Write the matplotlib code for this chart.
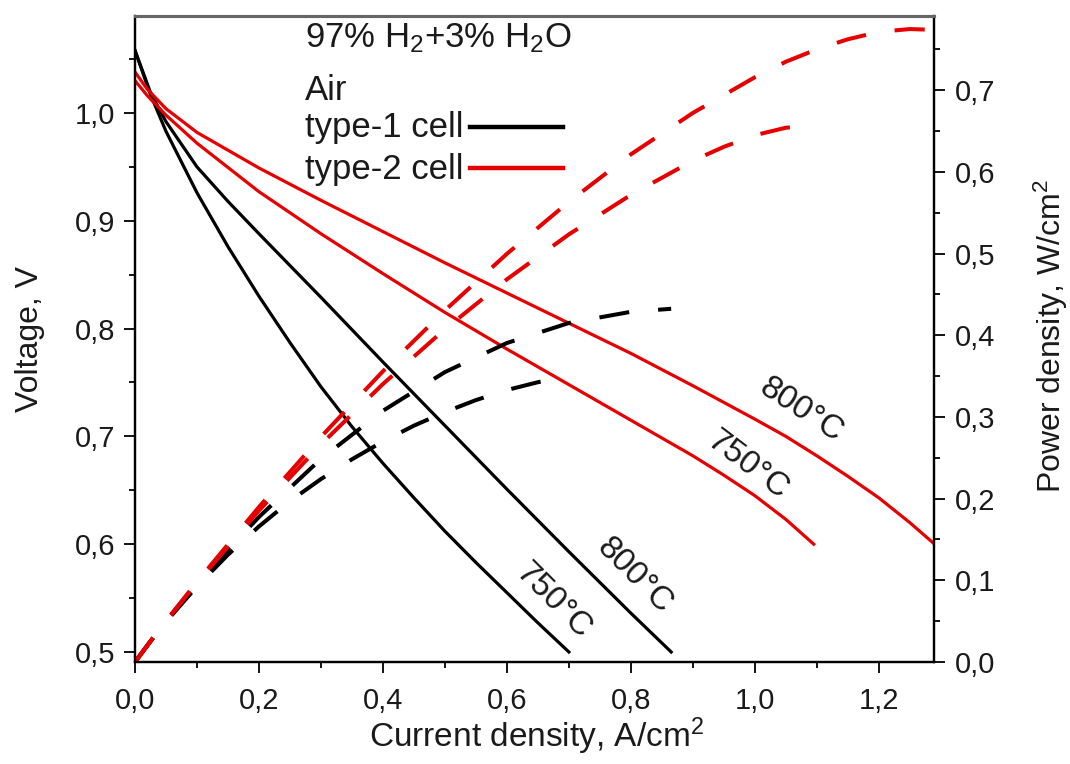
import matplotlib
matplotlib.use("Agg")
import matplotlib.pyplot as plt
from matplotlib.ticker import MultipleLocator, FuncFormatter

plt.rcParams['font.family'] = 'Liberation Sans'
plt.rcParams['mathtext.fontset'] = 'custom'
plt.rcParams['mathtext.rm'] = 'Liberation Sans'
plt.rcParams['mathtext.it'] = 'Liberation Sans:italic'
plt.rcParams['mathtext.bf'] = 'Liberation Sans:bold'

# type-1 cell, 750 C
j_t1_750 = [0, 0.025, 0.05, 0.1, 0.15, 0.2, 0.25, 0.3, 0.35, 0.4, 0.45, 0.5, 0.55, 0.6, 0.65, 0.7]
v_t1_750 = [1.058, 1.017, 0.983, 0.926, 0.876, 0.830, 0.787, 0.746, 0.709, 0.675, 0.643, 0.612,
            0.583, 0.555, 0.527, 0.5]
p_t1_750 = [0, 0.0254, 0.0492, 0.0926, 0.1314, 0.166, 0.197, 0.224, 0.2482, 0.27, 0.2894, 0.306,
            0.3207, 0.333, 0.3426, 0.35]

# type-1 cell, 800 C
j_t1_800 = [0, 0.025, 0.05, 0.1, 0.15, 0.2, 0.3, 0.4, 0.5, 0.6, 0.7, 0.8, 0.865]
v_t1_800 = [1.058, 1.019, 0.992, 0.950, 0.918, 0.888, 0.829, 0.769, 0.710, 0.651, 0.593, 0.536, 0.5]
p_t1_800 = [0, 0.0255, 0.0496, 0.095, 0.1377, 0.1776, 0.2487, 0.3076, 0.355, 0.3906, 0.4151, 0.4288, 0.4325]

# type-2 cell, 750 C
j_t2_750 = [0, 0.02, 0.05, 0.1, 0.2, 0.3, 0.4, 0.5, 0.6, 0.7, 0.8, 0.9, 0.95, 1.0, 1.05, 1.095]
v_t2_750 = [1.03, 1.016, 0.998, 0.972, 0.927, 0.888, 0.851, 0.815, 0.781, 0.748, 0.715, 0.682,
            0.664, 0.645, 0.623, 0.6]
p_t2_750 = [0, 0.0203, 0.0499, 0.0972, 0.1854, 0.2664, 0.3404, 0.4075, 0.4686, 0.5236, 0.572, 0.6138,
            0.6308, 0.645, 0.6542, 0.657]

# type-2 cell, 800 C
j_t2_800 = [0, 0.02, 0.05, 0.1, 0.2, 0.3, 0.4, 0.5, 0.6, 0.7, 0.8, 0.9, 1.0, 1.05, 1.1, 1.15,
            1.2, 1.25, 1.29]
v_t2_800 = [1.038, 1.022, 1.004, 0.982, 0.949, 0.919, 0.890, 0.861, 0.833, 0.805, 0.777, 0.747,
            0.716, 0.700, 0.682, 0.663, 0.643, 0.620, 0.6]
p_t2_800 = [0, 0.0204, 0.0502, 0.0982, 0.1898, 0.2757, 0.356, 0.4305, 0.4998, 0.5635, 0.6216,
            0.6723, 0.716, 0.735, 0.7502, 0.7625, 0.7716, 0.775, 0.774]

RED = '#e60000'
BLACK = '#000000'
TXT = '#1a1a1a'

comma = FuncFormatter(lambda v, p: f"{v:.1f}".replace('.', ','))

fig = plt.figure(figsize=(10.7, 7.64), dpi=100)
ax = fig.add_axes([135/1070, 102/764, 799/1070, 646/764])
ax2 = ax.twinx()

lw_v = 2.3
lw_p = 2.9
dash = (0, (7.5, 7.2))

ax.plot(j_t1_750, v_t1_750, color=BLACK, lw=lw_v)
ax.plot(j_t1_800, v_t1_800, color=BLACK, lw=lw_v)
ax.plot(j_t2_750, v_t2_750, color=RED, lw=lw_v)
ax.plot(j_t2_800, v_t2_800, color=RED, lw=lw_v)

ax2.plot(j_t1_750, p_t1_750, color=BLACK, lw=lw_p, ls=dash)
ax2.plot(j_t1_800, p_t1_800, color=BLACK, lw=lw_p, ls=dash)
ax2.plot(j_t2_750, p_t2_750, color=RED, lw=lw_p, ls=dash)
ax2.plot(j_t2_800, p_t2_800, color=RED, lw=lw_p, ls=dash)

ax.set_xlim(0, 1.289)
ax.set_ylim(0.4907, 1.09)
ax2.set_ylim(0, 0.791)

ax.xaxis.set_major_locator(MultipleLocator(0.2))
ax.xaxis.set_minor_locator(MultipleLocator(0.1))
ax.yaxis.set_major_locator(MultipleLocator(0.1))
ax.yaxis.set_minor_locator(MultipleLocator(0.05))
ax2.yaxis.set_major_locator(MultipleLocator(0.1))
ax2.yaxis.set_minor_locator(MultipleLocator(0.05))
for a in (ax.xaxis, ax.yaxis, ax2.yaxis):
    a.set_major_formatter(comma)

ax.tick_params(axis='both', which='major', direction='out', length=8, width=1.3,
               labelsize=21, labelcolor=TXT)
ax.tick_params(axis='both', which='minor', direction='out', length=4.5, width=1.3)
ax.tick_params(axis='x', which='major', pad=10)
ax.tick_params(axis='y', which='major', pad=6)
ax.tick_params(top=False, which='both')
ax2.tick_params(axis='y', which='major', direction='out', length=8, width=1.3,
                labelsize=21, labelcolor=TXT, pad=7)
ax2.tick_params(axis='y', which='minor', direction='out', length=4.5, width=1.3)

for a in (ax, ax2):
    for s in a.spines.values():
        s.set_linewidth(1.6)
    a.spines['top'].set_color('#666666')
    a.spines['top'].set_linewidth(2.2)

ax.set_xlabel('Current density, A/cm$^2$', fontsize=24, color=TXT)
ax.set_ylabel('Voltage, V', fontsize=23, color=TXT)
ax2.set_ylabel('Power density, W/cm$^2$', fontsize=23, color=TXT)
ax.xaxis.set_label_coords(0.503, -0.083)
ax.yaxis.set_label_coords(-0.113, 0.50)
ax2.yaxis.set_label_coords(1.122, 0.505)

# header and legend
ax.text(0.2128, 0.966, '97% H$_2$+3% H$_2$O', transform=ax.transAxes,
        fontsize=25, color=TXT, va='center', ha='left')
ax.text(0.2128, 0.884, 'Air', transform=ax.transAxes,
        fontsize=25, color=TXT, va='center', ha='left')
ax.text(0.2128, 0.828, 'type-1 cell', transform=ax.transAxes,
        fontsize=25, color=TXT, va='center', ha='left')
ax.text(0.2128, 0.763, 'type-2 cell', transform=ax.transAxes,
        fontsize=25, color=TXT, va='center', ha='left')
ax.plot([0.419, 0.536], [0.828, 0.828], transform=ax.transAxes, color=BLACK, lw=3.2)
ax.plot([0.419, 0.536], [0.765, 0.765], transform=ax.transAxes, color=RED, lw=3.2)

# temperature labels
ax.text(0.674, 0.547, '750°C', rotation=-45, fontsize=24, color=TXT,
        ha='center', va='center', rotation_mode='anchor')
ax.text(0.805, 0.571, '800°C', rotation=-45, fontsize=24, color=TXT,
        ha='center', va='center', rotation_mode='anchor')
ax.text(1.074, 0.724, '800°C', rotation=-33, fontsize=24, color=TXT,
        ha='center', va='center', rotation_mode='anchor')
ax.text(0.989, 0.673, '750°C', rotation=-37, fontsize=24, color=TXT,
        ha='center', va='center', rotation_mode='anchor')

fig.savefig('out.png', dpi=100)
